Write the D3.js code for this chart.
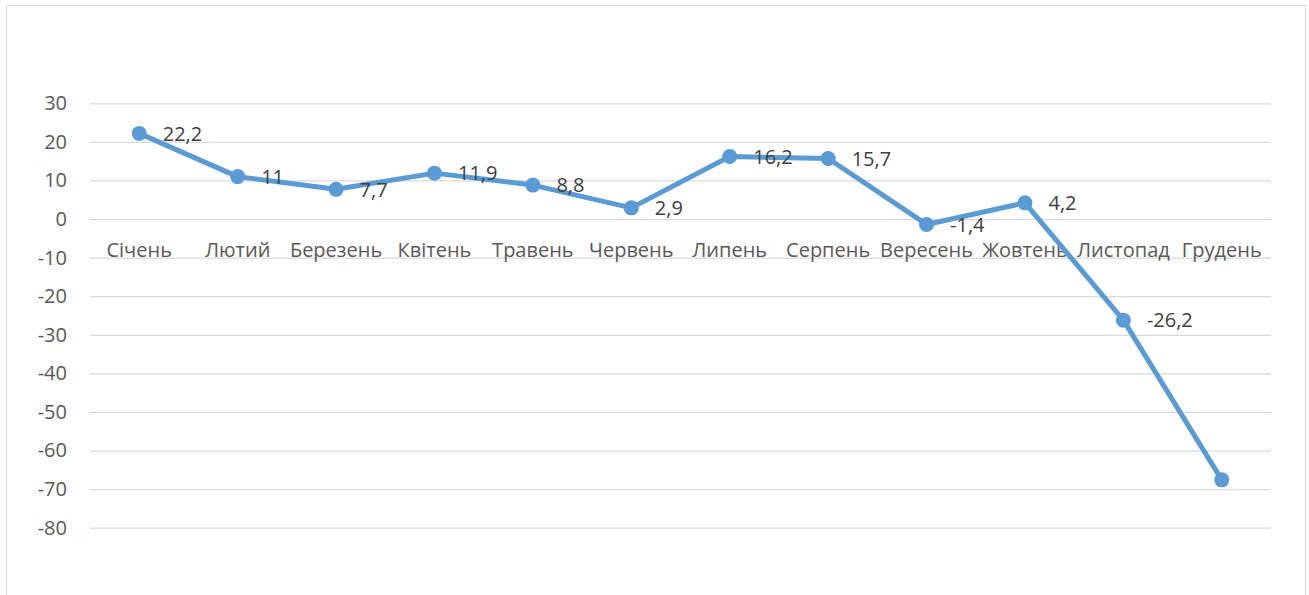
<!DOCTYPE html>
<html><head><meta charset="utf-8">
<script src="https://cdn.jsdelivr.net/npm/d3@7"></script>
<style>
html,body{margin:0;padding:0;background:#fff;}
svg{display:block;}
text{font-family:"Open Sans",sans-serif;}
</style></head>
<body>
<svg id="chart" width="1309" height="595"></svg>
<script>
const categories = ["Січень","Лютий","Березень","Квітень","Травень","Червень","Липень","Серпень","Вересень","Жовтень","Листопад","Грудень"];
const values = [22.2, 11, 7.7, 11.9, 8.8, 2.9, 16.2, 15.7, -1.4, 4.2, -26.2, -67.6];
const dataLabels = ["22,2","11","7,7","11,9","8,8","2,9","16,2","15,7","-1,4","4,2","-26,2",null];
const yTicks = [30,20,10,0,-10,-20,-30,-40,-50,-60,-70,-80];

(function(){
const svg = d3.select("#chart");
const FS = "20px";
// chart border
svg.append("rect").attr("x",6.5).attr("y",5.5).attr("width",1299).attr("height",600)
  .attr("fill","#fff").attr("stroke","#d9d9d9").attr("stroke-width",1);

const pLeft = 90, pRight = 1271, pTop = 103.3, pBottom = 527.7;
const x = d3.scaleBand().domain(categories).range([pLeft,pRight]);
const y = d3.scaleLinear().domain([-80,30]).range([pBottom,pTop]);

// gridlines
const grid = svg.append("g").attr("class","grid")
  .attr("transform",`translate(${pLeft},0)`)
  .call(d3.axisLeft(y).tickValues(yTicks).tickSize(-(pRight-pLeft)).tickFormat(""));
grid.select(".domain").remove();
grid.selectAll("line").attr("stroke","#d9d9d9").attr("stroke-width",1.3);

// y axis labels
const ya = svg.append("g").attr("transform",`translate(${pLeft},0)`)
  .call(d3.axisLeft(y).tickValues(yTicks).tickSize(0).tickPadding(23).tickFormat(d=>String(d)));
ya.select(".domain").remove();
ya.selectAll("text").attr("fill","#595959").style("font-size",FS).style("font-family","'Open Sans',sans-serif");

// x axis labels at zero line
const xa = svg.append("g").attr("transform",`translate(0,${y(0)})`)
  .call(d3.axisBottom(x).tickSize(0).tickPadding(23.5));
xa.select(".domain").remove();
xa.selectAll("text").attr("fill","#595959").style("font-size",FS).style("font-family","'Open Sans',sans-serif");

const cx = d => x(d) + x.bandwidth()/2;
const pts = categories.map((c,i)=>({c, v: values[i], l: dataLabels[i]}));

svg.append("path").datum(pts)
  .attr("fill","none").attr("stroke","#5b9bd5").attr("stroke-width",5)
  .attr("stroke-linejoin","round")
  .attr("d", d3.line().x(d=>cx(d.c)).y(d=>y(d.v)));

svg.selectAll("circle.pt").data(pts).enter().append("circle")
  .attr("cx",d=>cx(d.c)).attr("cy",d=>y(d.v)).attr("r",7.5).attr("fill","#5b9bd5");

svg.selectAll("text.lbl").data(pts.filter(d=>d.l!==null)).enter().append("text")
  .attr("class","lbl")
  .attr("x",d=>cx(d.c)+23.5).attr("y",d=>y(d.v))
  .attr("dy","0.36em")
  .attr("fill","#404040").style("font-size",FS)
  .text(d=>d.l);
})();
</script>
</body></html>
